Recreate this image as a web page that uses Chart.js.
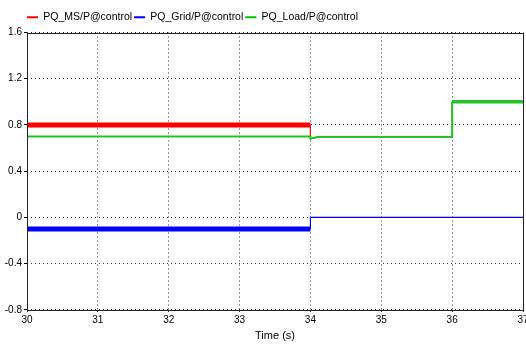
<!DOCTYPE html>
<html>
<head>
<meta charset="utf-8">
<script src="https://cdn.jsdelivr.net/npm/chart.js@4/dist/chart.umd.min.js"></script>
<style>
  html, body { margin: 0; padding: 0; background: #fff; }
  canvas { display: block; }
</style>
</head>
<body>
<canvas id="chart" width="526" height="344"></canvas>
<script>
// 数据：时间 (s) 与有功功率 P
const msTime   = [30, 34, 34, 34.1, 36, 36, 37];
const msP      = [0.80, 0.80, 0.68, 0.695, 0.695, 1.00, 1.00];
const gridTime = [30, 34, 34, 37];
const gridP    = [-0.10, -0.10, 0.00, 0.00];
const loadTime = [30, 34, 34, 34.1, 36, 36, 37];
const loadP    = [0.70, 0.70, 0.68, 0.695, 0.695, 1.00, 1.00];

const xTicks = [30, 31, 32, 33, 34, 35, 36, 37];
const yTicks = [-0.8, -0.4, 0, 0.4, 0.8, 1.2, 1.6];

function toPoints(t, v) {
  return t.map((x, i) => ({ x: x, y: v[i] }));
}

// 绘图区外框 + 图例左移
const frame = {
  id: 'frame',
  beforeDraw(chart) {
    if (chart.legend) chart.legend.left = 25;
  },
  afterDatasetsDraw(chart) {
    const a = chart.chartArea, c = chart.ctx;
    c.save();
    c.strokeStyle = '#222';
    c.lineWidth = 1;
    c.strokeRect(Math.round(a.left) + 0.5, Math.round(a.top) + 0.5,
      Math.round(a.right - a.left), Math.round(a.bottom - a.top));
    c.restore();
  }
};

Chart.defaults.font.family = '"Liberation Sans", Arial, sans-serif';
Chart.defaults.color = '#000';

new Chart(document.getElementById('chart'), {
  type: 'line',
  data: {
    datasets: [
      {
        label: 'PQ_MS/P@control',
        data: toPoints(msTime, msP),
        order: 2,
        borderColor: '#ff0000',
        backgroundColor: '#ff0000',
        segment: { borderWidth: ctx => ctx.p0DataIndex === 0 ? 5 : 1 }
      },
      {
        label: 'PQ_Grid/P@control',
        data: toPoints(gridTime, gridP),
        order: 1,
        borderColor: '#0000ff',
        backgroundColor: '#0000ff',
        segment: { borderWidth: ctx => ctx.p0DataIndex === 0 ? 5 : 1.2 }
      },
      {
        label: 'PQ_Load/P@control',
        data: toPoints(loadTime, loadP),
        order: 0,
        borderColor: '#22c322',
        backgroundColor: '#00c000',
        segment: { borderWidth: ctx => ctx.p0DataIndex === 0 ? 2 : (ctx.p0DataIndex >= 5 ? 3.5 : 2) }
      }
    ]
  },
  options: {
    responsive: false,
    animation: false,
    events: [],
    elements: { point: { radius: 0 }, line: { tension: 0, borderJoinStyle: 'miter' } },
    layout: { padding: { left: 0, right: 3, top: 10, bottom: 1 } },
    plugins: {
      tooltip: { enabled: false },
      legend: {
        position: 'top',
        align: 'start',
        labels: {
          boxWidth: 11,
          boxHeight: 2,
          padding: 2,
          font: { size: 10.5 },
          color: '#000',
          sort: (a, b) => a.datasetIndex - b.datasetIndex,
          generateLabels: chart => Chart.defaults.plugins.legend.labels.generateLabels(chart)
            .map(l => Object.assign(l, { lineWidth: 0 }))
        }
      }
    },
    scales: {
      x: {
        type: 'linear',
        min: 30,
        max: 37,
        afterBuildTicks: s => { s.ticks = xTicks.map(v => ({ value: v })); },
        afterFit: s => { s.paddingRight = 0; s.paddingLeft = 0; },
        ticks: { font: { size: 10 }, padding: 2, maxRotation: 0, autoSkip: false },
        grid: { color: '#333', lineWidth: 1, tickLength: 2, tickColor: '#000' },
        border: { display: false, dash: [1, 3] },
        title: { display: true, text: 'Time (s)', font: { size: 11 }, padding: { top: 2, bottom: 0 } }
      },
      y: {
        min: -0.8,
        max: 1.6,
        afterBuildTicks: s => { s.ticks = yTicks.map(v => ({ value: v })); },
        afterFit: s => { s.width = 27; s.paddingTop = 21; },
        ticks: { font: { size: 10 }, padding: 2, callback: v => String(Math.round(v * 10) / 10) },
        grid: { color: '#333', lineWidth: 1, tickLength: 3, tickColor: '#000' },
        border: { display: false, dash: [1, 3] }
      }
    }
  },
  plugins: [frame]
});
</script>
</body>
</html>
